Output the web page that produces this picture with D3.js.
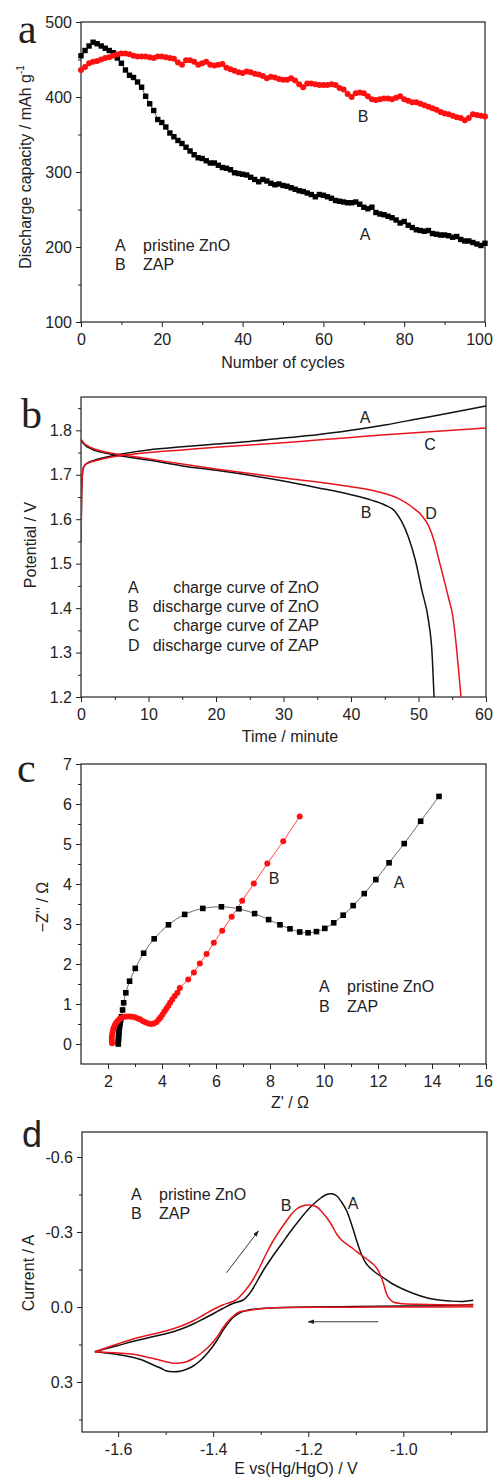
<!DOCTYPE html>
<html><head><meta charset="utf-8">
<script src="https://cdn.jsdelivr.net/npm/d3@7"></script>
<style>
body{margin:0;background:#fff;}
text{fill:#222;}
</style></head><body>
<script>
// ---------- Panel a: discharge capacity vs cycles ----------
const cyclesA = d3.range(0, 101);
const capZnO = [455,462,468,473,471,468,465,462,459,452,445,436,429,426,420,413,401,391,382,370,366,360,352,347,342,338,333,328,323,319,318,315,312,312,309,306,305,303,299,298,297,296,293,290,287,290,288,285,283,284,282,281,279,277,275,274,272,270,267,270,269,267,265,262,261,260,259,259,260,257,253,251,253,246,244,243,241,239,236,232,234,229,226,223,222,221,222,218,217,216,216,215,213,214,210,208,208,206,204,202,205];
const capZAP = [436,440,445,447,448,450,452,453,455,457,458,458,457,455,454,454,454,453,452,454,454,453,452,451,446,443,449,449,447,443,445,447,443,442,443,444,439,437,435,433,432,434,433,431,430,428,425,427,426,424,423,423,425,422,417,413,418,418,417,416,416,416,417,416,412,410,404,400,405,406,405,401,397,396,397,398,398,397,399,401,397,395,393,393,391,389,387,385,383,380,378,377,375,373,372,369,372,377,376,375,374];
const aXTicks = [0,20,40,60,80,100], aXMinor = [10,30,50,70,90];
const aYTicks = [100,200,300,400,500], aYMinor = [150,250,350,450];

// ---------- Panel b: charge/discharge curves ----------
const tCharge = [0,0.1,0.3,0.6,1,2,3,5,10,15,20,25,30,35,40,45,50,55,60];
const vChargeZnO = [1.55,1.66,1.713,1.722,1.727,1.733,1.737,1.744,1.756,1.763,1.769,1.775,1.783,1.790,1.800,1.812,1.826,1.840,1.855];
const vChargeZAP = [1.55,1.66,1.715,1.722,1.726,1.731,1.735,1.741,1.750,1.756,1.762,1.767,1.772,1.778,1.784,1.790,1.795,1.800,1.805];
const tDisZnO = [0,0.5,1,2,4,6,10,15,20,25,30,35,40,43,45,46.5,47.5,48.5,49.5,50.5,51.5,52,52.3];
const vDisZnO = [1.778,1.768,1.762,1.755,1.748,1.742,1.733,1.720,1.710,1.699,1.686,1.671,1.655,1.643,1.632,1.618,1.595,1.56,1.51,1.44,1.37,1.30,1.2];
const tDisZAP = [0,0.5,1,2,4,6,10,15,20,25,30,35,40,44,47,49,50.5,51.5,52.3,53,53.8,54.5,55,55.5,56,56.3];
const vDisZAP = [1.780,1.770,1.765,1.758,1.750,1.745,1.736,1.724,1.713,1.703,1.693,1.684,1.673,1.662,1.647,1.628,1.608,1.585,1.552,1.51,1.463,1.42,1.389,1.33,1.25,1.2];
const bXTicks = [0,10,20,30,40,50,60], bXMinor = [5,15,25,35,45,55];
const bYTicks = [1.2,1.3,1.4,1.5,1.6,1.7,1.8], bYMinor = [1.25,1.35,1.45,1.55,1.65,1.75,1.85];

// ---------- Panel c: Nyquist plots ----------
const zReZnO = [2.38,2.38,2.39,2.39,2.40,2.41,2.42,2.43,2.45,2.47,2.50,2.54,2.58,2.66,2.80,3.01,3.32,3.71,4.24,4.84,5.51,6.20,6.85,7.43,7.95,8.37,8.74,9.10,9.41,9.72,10.03,10.36,10.71,11.08,11.49,11.92,12.41,12.97,13.58,14.26];
const zImZnO = [0.00,0.06,0.12,0.18,0.25,0.32,0.39,0.45,0.52,0.60,0.68,0.85,1.03,1.28,1.57,1.89,2.27,2.63,2.98,3.24,3.39,3.43,3.38,3.26,3.11,2.98,2.88,2.80,2.78,2.81,2.89,3.03,3.22,3.46,3.76,4.11,4.53,5.01,5.57,6.19];
const zReZAP = [2.15,2.14,2.14,2.15,2.17,2.19,2.22,2.26,2.31,2.37,2.44,2.52,2.61,2.70,2.80,2.90,3.00,3.10,3.20,3.30,3.40,3.50,3.60,3.70,3.80,3.88,3.95,4.02,4.09,4.16,4.23,4.30,4.38,4.47,4.57,4.66,4.97,5.18,5.40,5.65,5.92,6.23,6.58,6.97,7.40,7.90,8.49,9.10];
const zImZAP = [0.02,0.08,0.15,0.22,0.29,0.36,0.42,0.48,0.54,0.59,0.63,0.66,0.68,0.69,0.69,0.68,0.67,0.64,0.61,0.57,0.54,0.51,0.50,0.51,0.55,0.61,0.67,0.74,0.81,0.88,0.95,1.03,1.11,1.20,1.28,1.40,1.61,1.79,2.01,2.25,2.53,2.83,3.18,3.58,4.01,4.51,5.07,5.69];
const cXTicks = [2,4,6,8,10,12,14,16], cXMinor = [3,5,7,9,11,13,15];
const cYTicks = [0,1,2,3,4,5,6,7], cYMinor = [0.5,1.5,2.5,3.5,4.5,5.5,6.5];

// ---------- Panel d: cyclic voltammograms ----------
const eFwdZnO = [-1.649,-1.620,-1.600,-1.568,-1.530,-1.498,-1.470,-1.442,-1.420,-1.400,-1.380,-1.360,-1.337,-1.325,-1.316,-1.295,-1.274,-1.255,-1.239,-1.220,-1.204,-1.190,-1.175,-1.165,-1.158,-1.150,-1.140,-1.130,-1.119,-1.108,-1.098,-1.088,-1.077,-1.060,-1.042,-1.025,-1.007,-0.980,-0.951,-0.925,-0.902,-0.875,-0.853];
const iFwdZnO = [0.179,0.164,0.154,0.137,0.120,0.106,0.090,0.068,0.047,0.027,0.006,-0.013,-0.028,-0.050,-0.075,-0.145,-0.205,-0.255,-0.298,-0.345,-0.382,-0.410,-0.434,-0.447,-0.452,-0.453,-0.444,-0.420,-0.384,-0.325,-0.264,-0.210,-0.171,-0.140,-0.117,-0.095,-0.077,-0.055,-0.037,-0.028,-0.024,-0.022,-0.027];
const eRevZnO = [-0.853,-0.900,-1.000,-1.100,-1.200,-1.250,-1.288,-1.305,-1.316,-1.330,-1.344,-1.355,-1.365,-1.380,-1.393,-1.410,-1.428,-1.442,-1.456,-1.470,-1.484,-1.498,-1.512,-1.533,-1.554,-1.580,-1.604,-1.630,-1.649];
const iRevZnO = [-0.010,-0.006,-0.004,-0.002,0.000,0.002,0.005,0.007,0.009,0.014,0.023,0.037,0.056,0.095,0.136,0.180,0.216,0.236,0.249,0.257,0.259,0.256,0.243,0.226,0.209,0.197,0.189,0.183,0.179];
const eFwdZAP = [-1.649,-1.620,-1.600,-1.568,-1.530,-1.498,-1.470,-1.442,-1.420,-1.400,-1.380,-1.365,-1.354,-1.345,-1.330,-1.316,-1.302,-1.288,-1.274,-1.260,-1.246,-1.235,-1.225,-1.214,-1.204,-1.193,-1.182,-1.172,-1.161,-1.150,-1.140,-1.130,-1.119,-1.105,-1.091,-1.077,-1.063,-1.056,-1.049,-1.042,-1.035,-1.028,-1.021,-1.000,-0.972,-0.920,-0.853];
const iFwdZAP = [0.179,0.160,0.147,0.128,0.110,0.095,0.078,0.055,0.032,0.010,-0.008,-0.018,-0.026,-0.040,-0.072,-0.110,-0.160,-0.215,-0.264,-0.306,-0.344,-0.372,-0.391,-0.403,-0.408,-0.407,-0.400,-0.382,-0.357,-0.325,-0.291,-0.268,-0.251,-0.232,-0.211,-0.192,-0.171,-0.155,-0.131,-0.095,-0.051,-0.030,-0.020,-0.013,-0.011,-0.009,-0.008];
const eRevZAP = [-0.853,-0.950,-1.050,-1.150,-1.250,-1.288,-1.305,-1.316,-1.330,-1.344,-1.355,-1.365,-1.380,-1.393,-1.410,-1.428,-1.442,-1.456,-1.470,-1.484,-1.500,-1.519,-1.545,-1.568,-1.600,-1.630,-1.649];
const iRevZAP = [-0.001,0.000,0.000,0.001,0.002,0.005,0.008,0.011,0.015,0.019,0.032,0.049,0.085,0.123,0.160,0.189,0.206,0.219,0.224,0.225,0.219,0.209,0.198,0.189,0.184,0.181,0.179];
const dXTicks = [-1.6,-1.4,-1.2,-1.0], dXMinor = [-1.5,-1.3,-1.1,-0.9];
const dYTicks = [-0.6,-0.3,0,0.3], dYMinor = [-0.45,-0.15,0.15,0.45];
const arrowUp = [[-1.372,-0.137],[-1.305,-0.304]];
const arrowLeft = [[-1.053,0.059],[-1.200,0.059]];

// ---------- drawing ----------
const W = 495, H = 1479;
const RED = "#ff1010", RED_LINE = "#e8141c", BLK = "#111";
const FS = 16;
const SANS = "'Liberation Sans', Arial, sans-serif";
const SERIF = "'Liberation Serif', 'Times New Roman', serif";
const svg = d3.select("body").append("svg").attr("width", W).attr("height", H).style("font-family", SANS);
const defs = svg.append("defs");
defs.append("marker").attr("id","ah").attr("viewBox","0 0 10 10").attr("refX",9).attr("refY",5)
  .attr("markerWidth",7).attr("markerHeight",7).attr("orient","auto-start-reverse")
  .append("path").attr("d","M0,1.5L10,5L0,8.5z").attr("fill","#222");

function frame(x, y, xMaj, xMin, yMaj, yMin, xFmt, yFmt) {
  const g = svg.append("g");
  const xr = x.range(), yr = y.range();
  const yb = Math.max(...yr), yt = Math.min(...yr);
  const xl = Math.min(...xr), xrr = Math.max(...xr);
  const ax = (sel) => { sel.select(".domain").remove(); sel.selectAll("line").attr("stroke","#222");
    sel.attr("font-family", null).attr("font-size", null);
    sel.selectAll("text").style("font-size",FS+"px").style("font-family",SANS).attr("fill","#222"); };
  g.append("g").attr("transform",`translate(0,${yb})`).call(d3.axisBottom(x).tickValues(xMin).tickSize(3).tickFormat("")).call(ax);
  const xa = g.append("g").attr("transform",`translate(0,${yb})`).call(d3.axisBottom(x).tickValues(xMaj).tickSize(5).tickPadding(7).tickFormat(xFmt)).call(ax);
  xa.selectAll(".tick text").each(function(){
    const b = this.getBBox(); const tr = this.parentNode.getAttribute("transform");
    const tx = +tr.match(/translate\(([-\d.]+)/)[1];
    const over = tx + b.x + b.width - (W - 2);
    if (over > 0) d3.select(this).attr("x", -over);
  });
  g.append("g").attr("transform",`translate(${xl},0)`).call(d3.axisLeft(y).tickValues(yMin).tickSize(3).tickFormat("")).call(ax);
  g.append("g").attr("transform",`translate(${xl},0)`).call(d3.axisLeft(y).tickValues(yMaj).tickSize(5).tickPadding(4).tickFormat(yFmt)).call(ax);
  g.append("rect").attr("x",xl).attr("y",yt).attr("width",xrr-xl).attr("height",yb-yt)
    .attr("fill","none").attr("stroke","#222").attr("stroke-width",1.2);
  return g;
}
function txt(x, y, s, opt={}) {
  const t = svg.append("text").attr("x",x).attr("y",y).style("font-size",(opt.size||FS)+"px")
    .style("font-family", opt.family || SANS).text(s);
  if (opt.anchor) t.attr("text-anchor",opt.anchor);
  return t;
}
function vtitle(x, y, s) {
  return svg.append("text").attr("transform",`translate(${x},${y}) rotate(-90)`).attr("text-anchor","middle")
    .style("font-size",FS+"px").style("font-family",SANS).text(s);
}
const fmt1 = d => d.toFixed(1);
const fmt0 = d => String(d);

// ===== Panel a =====
{
  const x = d3.scaleLinear().domain([0,100]).range([81,485]);
  const y = d3.scaleLinear().domain([100,500]).range([322,22]);
  frame(x, y, aXTicks, aXMinor, aYTicks, aYMinor, fmt0, fmt0);
  const line = d3.line().x((d,i)=>x(cyclesA[i])).y(d=>y(d));
  svg.append("path").attr("d",line(capZnO)).attr("fill","none").attr("stroke","#333").attr("stroke-width",0.8);
  svg.append("path").attr("d",line(capZAP)).attr("fill","none").attr("stroke",RED).attr("stroke-width",0.8);
  svg.append("g").selectAll("rect").data(capZnO).join("rect")
    .attr("x",(d,i)=>x(cyclesA[i])-2.7).attr("y",d=>y(d)-2.7).attr("width",5.4).attr("height",5.4).attr("fill","#000");
  svg.append("g").selectAll("circle").data(capZAP).join("circle")
    .attr("cx",(d,i)=>x(cyclesA[i])).attr("cy",d=>y(d)).attr("r",3).attr("fill",RED);
  txt(18, 43, "a", {size:42, family:SERIF});
  const t = vtitle(31, 167, "Discharge capacity / mAh g");
  t.append("tspan").style("font-size","10px").attr("dy",-7).text("-1");
  txt(283, 368, "Number of cycles", {anchor:"middle"});
  txt(115, 251, "A"); txt(143, 251, "pristine ZnO");
  txt(115, 270, "B"); txt(143, 270, "ZAP");
  txt(363, 122, "B", {anchor:"middle"});
  txt(365, 240, "A", {anchor:"middle"});
}

// ===== Panel b =====
{
  const x = d3.scaleLinear().domain([0,60]).range([81,486]);
  const y = d3.scaleLinear().domain([1.2,1.875]).range([697,397]);
  frame(x, y, bXTicks, bXMinor, bYTicks, bYMinor, fmt0, fmt1);
  defs.append("clipPath").attr("id","cb").append("rect").attr("x",81).attr("y",397).attr("width",405).attr("height",300);
  const mk = (ts, vs) => d3.line().curve(d3.curveMonotoneX).x((d,i)=>x(ts[i])).y(d=>y(d))(vs);
  const g = svg.append("g").attr("clip-path","url(#cb)");
  g.append("path").attr("d",mk(tCharge,vChargeZnO)).attr("fill","none").attr("stroke",BLK).attr("stroke-width",1.5);
  g.append("path").attr("d",mk(tDisZnO,vDisZnO)).attr("fill","none").attr("stroke",BLK).attr("stroke-width",1.5);
  g.append("path").attr("d",mk(tCharge,vChargeZAP)).attr("fill","none").attr("stroke",RED_LINE).attr("stroke-width",1.5);
  g.append("path").attr("d",mk(tDisZAP,vDisZAP)).attr("fill","none").attr("stroke",RED_LINE).attr("stroke-width",1.5);
  txt(21, 428, "b", {size:42, family:SERIF});
  vtitle(36, 545, "Potential / V");
  txt(290, 742, "Time / minute", {anchor:"middle"});
  const legL = ["A","B","C","D"];
  const legT = ["charge curve of ZnO","discharge curve of ZnO","charge curve of ZAP","discharge curve of ZAP"];
  legL.forEach((l,i)=>{ txt(128, 593+i*19.2, l); txt(319, 593+i*19.2, legT[i], {anchor:"end"}); });
  txt(365, 423, "A", {anchor:"middle"});
  txt(430, 450, "C", {anchor:"middle"});
  txt(366, 518, "B", {anchor:"middle"});
  txt(431, 519, "D", {anchor:"middle"});
}

// ===== Panel c =====
{
  const x = d3.scaleLinear().domain([1,16]).range([81,486]);
  const y = d3.scaleLinear().domain([-0.5,7]).range([1064,764]);
  frame(x, y, cXTicks, cXMinor, cYTicks, cYMinor, fmt0, fmt0);
  const lA = d3.line().curve(d3.curveCatmullRom).x((d,i)=>x(zReZnO[i])).y(d=>y(d));
  const lB = d3.line().curve(d3.curveCatmullRom).x((d,i)=>x(zReZAP[i])).y(d=>y(d));
  svg.append("path").attr("d",lA(zImZnO)).attr("fill","none").attr("stroke","#444").attr("stroke-width",0.8);
  svg.append("path").attr("d",lB(zImZAP)).attr("fill","none").attr("stroke",RED).attr("stroke-width",0.8);
  svg.append("g").selectAll("rect").data(zImZnO).join("rect")
    .attr("x",(d,i)=>x(zReZnO[i])-2.8).attr("y",d=>y(d)-2.8).attr("width",5.6).attr("height",5.6).attr("fill","#000");
  svg.append("g").selectAll("circle").data(zImZAP).join("circle")
    .attr("cx",(d,i)=>x(zReZAP[i])).attr("cy",d=>y(d)).attr("r",3).attr("fill",RED);
  txt(17, 782, "c", {size:42, family:SERIF});
  vtitle(48, 907, "\u2212Z'' / \u03A9");
  txt(290, 1108, "Z' / \u03A9", {anchor:"middle"});
  txt(319, 992, "A"); txt(347, 992, "pristine ZnO");
  txt(319, 1012, "B"); txt(347, 1012, "ZAP");
  txt(274, 884, "B", {anchor:"middle"});
  txt(399, 888, "A", {anchor:"middle"});
}

// ===== Panel d =====
{
  const x = d3.scaleLinear().domain([-1.676,-0.824]).range([82,487]);
  const y = d3.scaleLinear().domain([-0.7,0.5]).range([1132,1432]);
  frame(x, y, dXTicks, dXMinor, dYTicks, dYMinor, fmt1, fmt1);
  const mk = (es, is) => d3.line().curve(d3.curveCatmullRom).x((d,i)=>x(es[i])).y(d=>y(d))(is);
  svg.append("path").attr("d",mk(eFwdZnO,iFwdZnO)).attr("fill","none").attr("stroke",BLK).attr("stroke-width",1.5);
  svg.append("path").attr("d",mk(eRevZnO,iRevZnO)).attr("fill","none").attr("stroke",BLK).attr("stroke-width",1.5);
  svg.append("path").attr("d",mk(eFwdZAP,iFwdZAP)).attr("fill","none").attr("stroke",RED_LINE).attr("stroke-width",1.5);
  svg.append("path").attr("d",mk(eRevZAP,iRevZAP)).attr("fill","none").attr("stroke",RED_LINE).attr("stroke-width",1.5);
  [arrowUp, arrowLeft].forEach(a => {
    svg.append("line").attr("x1",x(a[0][0])).attr("y1",y(a[0][1])).attr("x2",x(a[1][0])).attr("y2",y(a[1][1]))
      .attr("stroke","#222").attr("stroke-width",0.9).attr("marker-end","url(#ah)");
  });
  txt(22, 1147, "d", {size:36});
  vtitle(34, 1273, "Current / A");
  txt(296, 1474, "E vs(Hg/HgO) / V", {anchor:"middle"});
  txt(131, 1200, "A"); txt(159, 1200, "pristine ZnO");
  txt(131, 1219, "B"); txt(159, 1219, "ZAP");
  txt(286, 1211, "B", {anchor:"middle"});
  txt(353, 1209, "A", {anchor:"middle"});
}
</script>
</body></html>
